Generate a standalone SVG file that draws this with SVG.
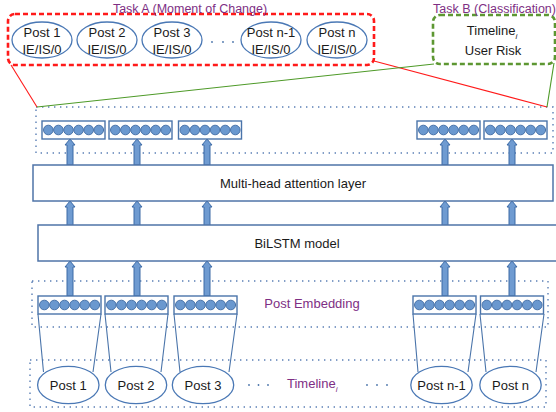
<svg xmlns="http://www.w3.org/2000/svg" width="556" height="412" viewBox="0 0 556 412">
<defs>
<style>
text{font-family:"Liberation Sans",Arial,sans-serif;font-size:13px;fill:#1a1a1a}
.lbl{fill:#7e2f84}
.task{font-size:12.5px}
.ell{fill:#fff;stroke:#4a78b5;stroke-width:1.3}
.box{fill:#fff;stroke:#4f74a8;stroke-width:1.5}
.dot{fill:none;stroke:#5b7fb5;stroke-width:1.4;stroke-dasharray:1.4 4.6}
.emb{fill:#fff;stroke:#4a74aa;stroke-width:1.4}
.c{fill:#6a98cf;stroke:#4a74aa;stroke-width:1}
.arr{fill:#6f9bd1;stroke:#3c6aa6;stroke-width:1}
.trap{fill:none;stroke:#4a74aa;stroke-width:1.1}
.ddot{fill:#4a74aa}
</style>
<g id="vec">
<rect class="emb" x="0" y="0" width="63" height="18"/>
<circle class="c" cx="6.3" cy="9" r="4.8"/>
<circle class="c" cx="16.4" cy="9" r="4.8"/>
<circle class="c" cx="26.5" cy="9" r="4.8"/>
<circle class="c" cx="36.6" cy="9" r="4.8"/>
<circle class="c" cx="46.7" cy="9" r="4.8"/>
<circle class="c" cx="56.8" cy="9" r="4.8"/>
</g>
<path id="ar" class="arr" d="M0,0 L5,6 L3,6 L3,26 L-3,26 L-3,6 L-5,6 Z"/>
<path id="ar2" class="arr" d="M0,0 L5,6 L3,6 L3,35 L-3,35 L-3,6 L-5,6 Z"/>
</defs>
<rect width="556" height="412" fill="#fff"/>

<!-- dotted containers -->
<rect class="dot" x="36" y="107" width="517" height="46"/>
<rect class="dot" x="32" y="281" width="516" height="46"/>
<rect class="dot" x="30" y="360" width="516" height="47"/>

<!-- Task A -->
<g id="taskA">
<rect x="8" y="14" width="366" height="51" rx="7" fill="none" stroke="#ff1a1a" stroke-width="2.6" stroke-dasharray="5 3"/>
<text class="lbl task" x="190" y="12.5" text-anchor="middle">Task A (Moment of Change)</text>
</g>
<g id="topPost1"><ellipse class="ell" cx="42" cy="40" rx="30" ry="18"/><text x="42" y="37" text-anchor="middle">Post 1</text><text x="42" y="54" text-anchor="middle">IE/IS/0</text></g>
<g id="topPost2"><ellipse class="ell" cx="107" cy="40" rx="30" ry="18"/><text x="107" y="37" text-anchor="middle">Post 2</text><text x="107" y="54" text-anchor="middle">IE/IS/0</text></g>
<g id="topPost3"><ellipse class="ell" cx="172" cy="40" rx="30" ry="18"/><text x="172" y="37" text-anchor="middle">Post 3</text><text x="172" y="54" text-anchor="middle">IE/IS/0</text></g>
<g id="topDots"><circle class="ddot" cx="212" cy="42" r="0.9"/><circle class="ddot" cx="223" cy="42" r="0.9"/><circle class="ddot" cx="233" cy="42" r="0.9"/></g>
<g id="topPostN1"><ellipse class="ell" cx="271" cy="40" rx="30" ry="18"/><text x="271" y="37" text-anchor="middle">Post n-1</text><text x="271" y="54" text-anchor="middle">IE/IS/0</text></g>
<g id="topPostN"><ellipse class="ell" cx="337" cy="40" rx="30" ry="18"/><text x="337" y="37" text-anchor="middle">Post n</text><text x="337" y="54" text-anchor="middle">IE/IS/0</text></g>

<!-- Task B -->
<g id="taskB">
<rect x="433" y="15" width="122" height="49" rx="7" fill="none" stroke="#5d9732" stroke-width="2.6" stroke-dasharray="5 3"/>
<text class="lbl task" x="433" y="12.5">Task B (Classification)</text>
<text x="492" y="35" text-anchor="middle">Timeline<tspan font-size="8" font-style="italic" dy="4">i</tspan></text>
<text x="493" y="55" text-anchor="middle">User Risk</text>
</g>

<!-- connectors -->
<g id="connectors">
<line x1="11" y1="65" x2="37" y2="107" stroke="#ff1a1a" stroke-width="1.1"/>
<line x1="374" y1="61" x2="547" y2="107" stroke="#ff1a1a" stroke-width="1.1"/>
<line x1="37" y1="107" x2="434" y2="64" stroke="#4e9a28" stroke-width="1.1"/>
<line x1="547" y1="107" x2="554" y2="63" stroke="#4e9a28" stroke-width="1.1"/>
<use href="#ar" x="70" y="139"/>
<use href="#ar" x="137" y="139"/>
<use href="#ar" x="207" y="139"/>
<use href="#ar" x="445" y="139"/>
<use href="#ar" x="512" y="139"/>
<use href="#ar" x="70" y="201"/>
<use href="#ar" x="137" y="201"/>
<use href="#ar" x="207" y="201"/>
<use href="#ar" x="445" y="201"/>
<use href="#ar" x="512" y="201"/>
<use href="#ar2" x="70" y="261"/>
<use href="#ar2" x="137" y="261"/>
<use href="#ar2" x="207" y="261"/>
<use href="#ar2" x="445" y="261"/>
<use href="#ar2" x="512" y="261"/>
<path class="trap" d="M38,314 L43.5,372 M101,314 L93,372"/>
<path class="trap" d="M105,314 L111,372 M168,314 L161,372"/>
<path class="trap" d="M174,314 L180,372 M237,314 L229,372"/>
<path class="trap" d="M413,314 L418,372 M476,314 L468,372"/>
<path class="trap" d="M480,314 L486,372 M544,314 L536,372"/>
</g>

<!-- top embeddings -->
<g id="outVec1"><use href="#vec" x="42" y="121"/></g>
<g id="outVec2"><use href="#vec" x="109" y="121"/></g>
<g id="outVec3"><use href="#vec" x="178.5" y="121"/></g>
<g id="outVec4"><use href="#vec" x="417" y="121"/></g>
<g id="outVec5"><use href="#vec" x="484" y="121"/></g>

<g id="attention"><rect class="box" x="33" y="165" width="520" height="36"/><text x="293" y="188" text-anchor="middle">Multi-head attention layer</text></g>
<g id="bilstm"><rect class="box" x="38" y="225" width="530" height="36"/><text x="297" y="248" text-anchor="middle">BiLSTM model</text></g>

<!-- post embeddings -->
<g id="embLabel"><text class="lbl" x="312" y="308" text-anchor="middle">Post Embedding</text></g>
<g id="inVec1"><use href="#vec" x="38" y="296"/></g>
<g id="inVec2"><use href="#vec" x="105" y="296"/></g>
<g id="inVec3"><use href="#vec" x="174" y="296"/></g>
<g id="inVec4"><use href="#vec" x="413" y="296"/></g>
<g id="inVec5"><use href="#vec" x="480.5" y="296"/></g>

<!-- posts -->
<g id="post1"><ellipse class="ell" cx="68.3" cy="385" rx="30.7" ry="18.7"/><text x="68.3" y="389.5" text-anchor="middle">Post 1</text></g>
<g id="post2"><ellipse class="ell" cx="136" cy="385" rx="30.7" ry="18.7"/><text x="136" y="389.5" text-anchor="middle">Post 2</text></g>
<g id="post3"><ellipse class="ell" cx="203" cy="385" rx="30.7" ry="18.7"/><text x="203" y="389.5" text-anchor="middle">Post 3</text></g>
<g id="dotsL"><circle class="ddot" cx="249" cy="385" r="0.9"/><circle class="ddot" cx="258.5" cy="385" r="0.9"/><circle class="ddot" cx="268" cy="385" r="0.9"/></g>
<g id="timelineLabel"><text class="lbl" x="287" y="388">Timeline<tspan font-size="8" font-style="italic" dy="4">i</tspan></text></g>
<g id="dotsR"><circle class="ddot" cx="367" cy="385" r="0.9"/><circle class="ddot" cx="377" cy="385" r="0.9"/><circle class="ddot" cx="387" cy="385" r="0.9"/></g>
<g id="postN1"><ellipse class="ell" cx="441.5" cy="385" rx="30.7" ry="18.7"/><text x="441.5" y="389.5" text-anchor="middle">Post n-1</text></g>
<g id="postN"><ellipse class="ell" cx="510.5" cy="385" rx="30.7" ry="18.7"/><text x="510.5" y="389.5" text-anchor="middle">Post n</text></g>
</svg>
